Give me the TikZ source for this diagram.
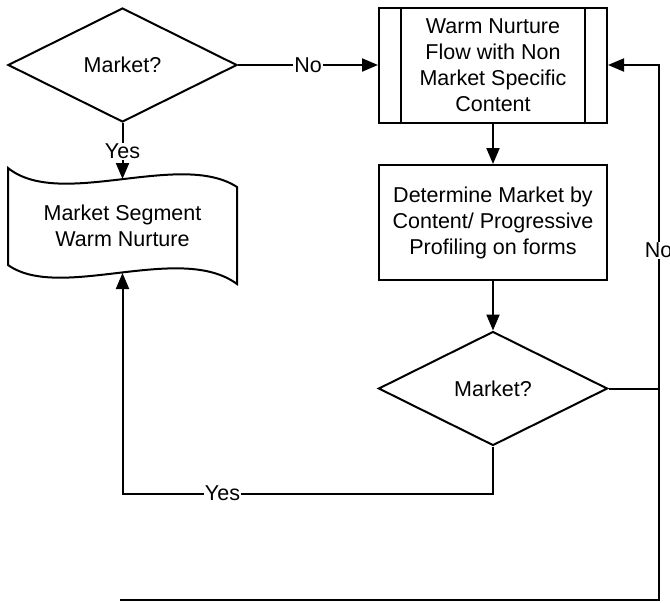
\documentclass[tikz,border=0pt]{standalone}
\usepackage{fontspec}
\setmainfont{Liberation Sans}
\usetikzlibrary{shapes.geometric,arrows.meta}
\begin{document}
\begin{tikzpicture}[x=1pt,y=-1pt,
  every node/.style={font=\fontsize{21.5}{26}\selectfont},
  line/.style={line width=2pt, draw=black},
  arr/.style={line, -{Triangle[length=16pt,width=13pt]}},
  dec/.style={diamond, draw, line width=2pt, minimum width=229pt, minimum height=114pt, inner sep=0pt, align=center},
  box/.style={rectangle, draw, line width=2pt, minimum width=228pt, minimum height=115pt, align=center, inner sep=0pt},
  lbl/.style={fill=white, inner sep=1pt}]
\useasboundingbox (0,0) rectangle (670,603);
\fill[white] (0,0) rectangle (670,603);

\node[dec] (d1) at (122.5,65) {Market?};
\node[box] (p1) at (493,65) {Warm Nurture\\Flow with Non\\Market Specific\\Content};
\draw[line] ([xshift=23pt]p1.north west) -- ([xshift=23pt]p1.south west);
\draw[line] ([xshift=-23pt]p1.north east) -- ([xshift=-23pt]p1.south east);
\node[box] (r1) at (493,222.5) {Determine Market by\\Content/ Progressive\\Profiling on forms};
\node[dec] (d2) at (493,388.5) {Market?};

\draw[line, fill=white] (8,168) .. controls (60,210) and (180,150) .. (237,187) -- (237,284)
  .. controls (180,242) and (60,302) .. (8,265) -- cycle;
\node[align=center, minimum width=229pt, minimum height=97pt, inner sep=0pt] (seg) at (122.5,226) {Market Segment\\Warm Nurture};
\coordinate (segtop) at (122.5,179);
\coordinate (segbot) at (122.5,273);
\coordinate (bend) at (120,600);

\draw[arr] (d1.south) -- node[lbl]{Yes} (segtop);
\draw[arr] (d1.east) -- node[lbl]{No} (p1.west);
\draw[arr] (p1.south) -- (r1.north);
\draw[arr] (r1.south) -- (d2.north);
\draw[arr] (d2.south) -- ++(0,47) -| node[lbl,pos=0.365]{Yes} (segbot);
\draw[arr] (d2.east) -- ++(50,0) |- node[lbl,pos=0.214]{No} (p1.east);
\draw[line] (bend) -| ([xshift=50pt]d2.east);
\end{tikzpicture}
\end{document}
